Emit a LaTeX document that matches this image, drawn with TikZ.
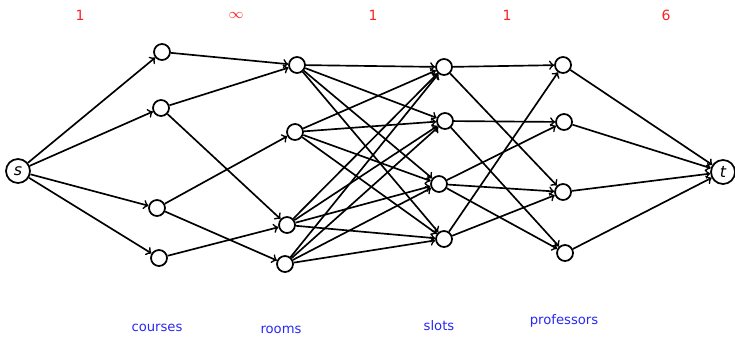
\documentclass[tikz,border=0pt]{standalone}
\usepackage{fontspec}
\setsansfont{DejaVu Sans}
\usepackage{tikz}
\usetikzlibrary{arrows,positioning,calc}
\definecolor{capred}{RGB}{250,35,35}
\definecolor{setblue}{RGB}{40,40,245}

\begin{document}
\begin{tikzpicture}[
    vert/.style={draw, circle, line width=1pt, minimum size=0.32cm, inner sep=0pt, fill=white},
    term/.style={draw, circle, line width=1pt, minimum size=0.48cm, inner sep=0pt, fill=white, font=\sffamily\itshape\fontsize{9}{10}\selectfont},
    capnum/.style={text=capred, font=\sffamily\fontsize{8}{9}\selectfont},
    setname/.style={text=setblue, font=\sffamily\fontsize{7.5}{9}\selectfont},
    arc/.style={->, line width=0.95pt}
  ]
    \useasboundingbox (0,0) rectangle (14.7,6.72);
    % source and sink
    \node [term] (s) at (0.36,3.30) {s};
    \node [term] (t) at (14.46,3.28) {t};
    % courses
    \node [vert] (c1) at (3.24,5.68) {};
    \node [vert] (c2) at (3.22,4.56) {};
    \node [vert] (c3) at (3.14,2.56) {};
    \node [vert] (c4) at (3.18,1.56) {};
    % rooms
    \node [vert] (r1) at (5.94,5.42) {};
    \node [vert] (r2) at (5.90,4.08) {};
    \node [vert] (r3) at (5.74,2.22) {};
    \node [vert] (r4) at (5.70,1.44) {};
    % slots
    \node [vert] (sl1) at (8.88,5.38) {};
    \node [vert] (sl2) at (8.90,4.30) {};
    \node [vert] (sl3) at (8.78,3.04) {};
    \node [vert] (sl4) at (8.88,1.94) {};
    % professors
    \node [vert] (p1) at (11.26,5.42) {};
    \node [vert] (p2) at (11.28,4.28) {};
    \node [vert] (p3) at (11.26,2.88) {};
    \node [vert] (p4) at (11.30,1.66) {};

    % capacities
    \node [capnum] (k1) at (1.60,6.42) {1};
    \node [capnum] (k2) at (4.72,6.42) {$\infty$};
    \node [capnum] (k3) at (7.46,6.42) {1};
    \node [capnum] (k4) at (10.14,6.42) {1};
    \node [capnum] (k5) at (13.32,6.42) {6};

    % set names
    \node [setname] (lc) at (3.14,0.16) {courses};
    \node [setname] (lr) at (5.62,0.12) {rooms};
    \node [setname] (ls) at (8.78,0.20) {slots};
    \node [setname] (lp) at (11.28,0.30) {professors};

    \foreach \i in {1,...,4}
        \draw [arc] (s) -- (c\i);
    \draw [arc] (c1) -- (r1);
    \draw [arc] (c2) -- (r1);
    \draw [arc] (c2) -- (r3);
    \draw [arc] (c3) -- (r2);
    \draw [arc] (c3) -- (r4);
    \draw [arc] (c4) -- (r3);
    \foreach \i in {1,...,4}
        \foreach \j in {1,...,4}
            \draw [arc] (r\i) -- (sl\j);
    \draw [arc] (sl1) -- (p1);
    \draw [arc] (sl1) -- (p3);
    \draw [arc] (sl2) -- (p2);
    \draw [arc] (sl2) -- (p4);
    \draw [arc] (sl3) -- (p2);
    \draw [arc] (sl3) -- (p3);
    \draw [arc] (sl3) -- (p4);
    \draw [arc] (sl4) -- (p1);
    \draw [arc] (sl4) -- (p3);
    \foreach \i in {1,...,4}
        \draw [arc] (p\i) -- (t);
\end{tikzpicture}
\end{document}
